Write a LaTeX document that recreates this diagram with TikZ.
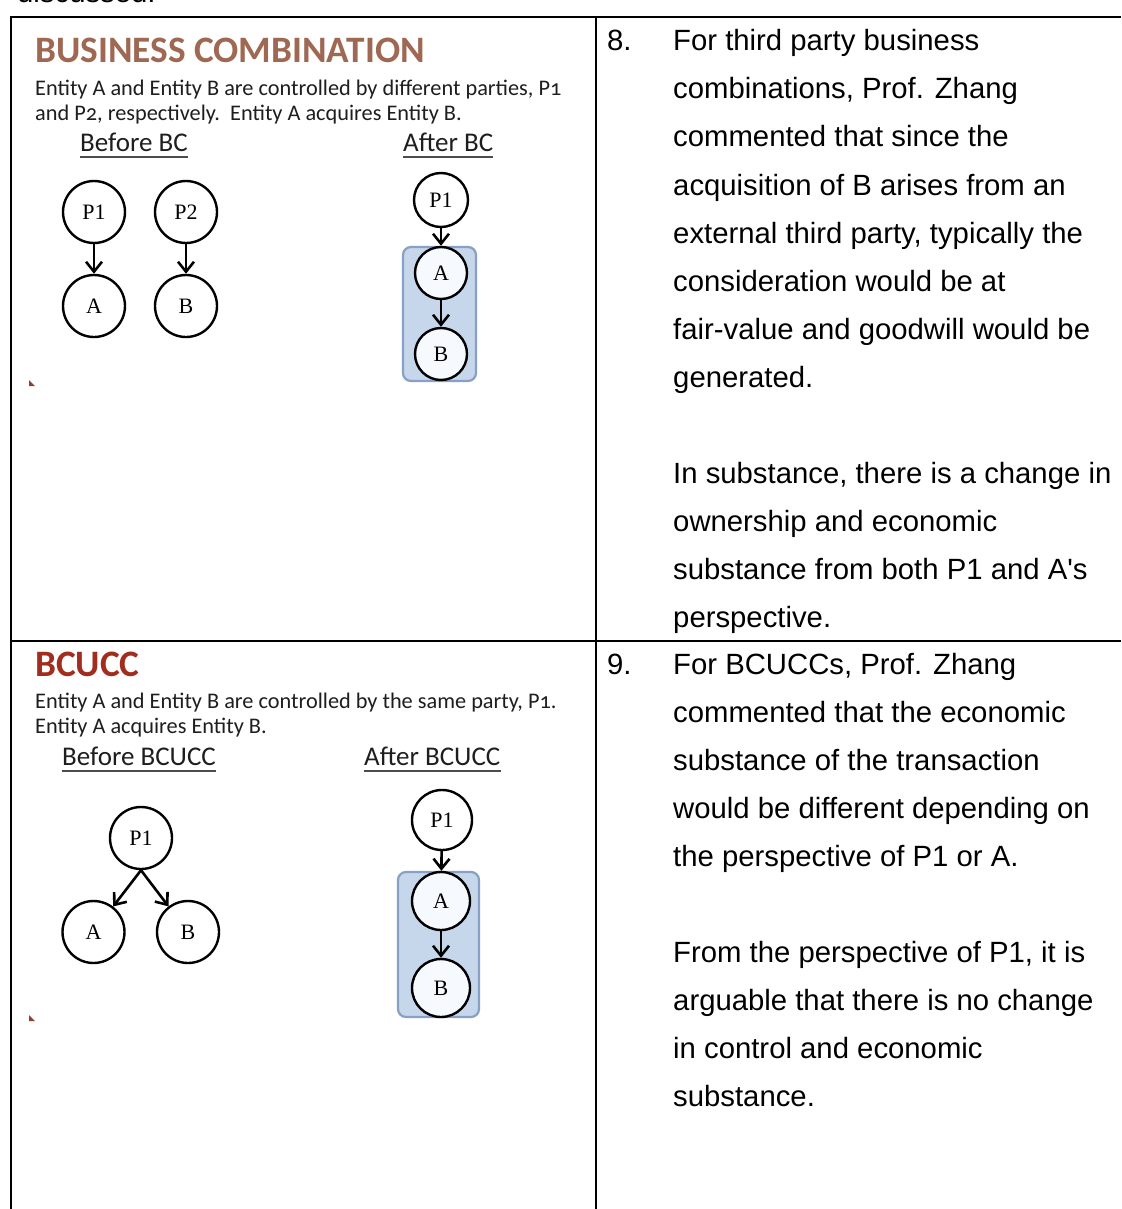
\documentclass[tikz,border=0pt]{standalone}
\usepackage{fontspec}
\setmainfont{Liberation Sans}[Ligatures=TeXOff]
\newfontfamily\calfont{Carlito}[Numbers=OldStyle]
\newfontfamily\tmsfont{Liberation Serif}
\usetikzlibrary{arrows.meta}
\definecolor{bctitle}{RGB}{158,104,82}
\definecolor{bcucctitle}{RGB}{160,45,30}
\definecolor{grpfill}{RGB}{198,214,235}
\definecolor{grpdraw}{RGB}{135,160,198}
\definecolor{innerfill}{RGB}{246,249,253}
\definecolor{bodytxt}{RGB}{30,30,30}
\definecolor{markred}{RGB}{150,60,50}
\tikzset{
 tbl/.style={line width=2pt},
 rtext/.style={anchor=base west, inner sep=0pt, font=\fontsize{29.3}{34}\selectfont},
 ltext/.style={anchor=base west, inner sep=0pt, font=\calfont\fontsize{22.3}{25}\selectfont, text=bodytxt},
 ttl/.style={anchor=base west, inner sep=0pt, font=\calfont\bfseries\fontsize{37.3}{40}\selectfont},
 subhd/.style={anchor=base west, inner sep=0pt, font=\calfont\fontsize{27}{30}\selectfont, text=bodytxt},
 ent/.style={circle, draw, line width=2.4pt, fill=white, font=\tmsfont\fontsize{22}{24}\selectfont, inner sep=0pt},
 inent/.style={ent, fill=innerfill},
 grp/.style={draw=grpdraw, fill=grpfill, line width=2.2pt, rounded corners=8pt, inner sep=0pt},
 arr/.style={draw=black, line width=2.6pt, -{Straight Barb[length=10pt,width=16pt]}},
 ul/.style={line width=1.5pt, draw=black!70}
}
\begin{document}
\begin{tikzpicture}[x=1pt,y=-1pt]
\useasboundingbox (0,0) rectangle (1121,1209);
\fill[white] (0,0) rectangle (1121,1209);
% cut-off text at the top
\node[rtext] (disc) at (17,3) {discussed.};
% table
\draw[tbl] (11,1209) -- (11,17) -- (1121,17);
\draw[tbl] (596,17) -- (596,1209);
\draw[tbl] (11,641) -- (1121,641);

% ===== top-left: business combination =====
\node[ttl, text=bctitle] (t1) at (35,63) {BUSINESS COMBINATION};
\node[ltext] (l1) at (35,96) {Entity A and Entity B are controlled by different parties, P1};
\node[ltext] (l2) at (35,121) {and P2, respectively.\ \ Entity A acquires Entity B.};
\node[subhd] (bbc) at (80,152) {Before BC};
\draw[ul] ([yshift=-5pt]bbc.base west) -- ([yshift=-5pt]bbc.base east);
\node[subhd] (abc) at (403,152) {After BC};
\draw[ul] ([yshift=-5pt]abc.base west) -- ([yshift=-5pt]abc.base east);

\node[ent, minimum size=62pt] (bp1) at (94,212) {P1};
\node[ent, minimum size=62pt] (ba) at (94,306) {A};
\node[ent, minimum size=62pt] (bp2) at (186,212) {P2};
\node[ent, minimum size=62pt] (bb) at (186,306) {B};
\draw[arr] (bp1) -- (ba);
\draw[arr] (bp2) -- (bb);

\node[grp, minimum width=73pt, minimum height=134pt] (g1) at (439.5,314) {};
\node[ent, minimum size=54pt] (ap1) at (441,200) {P1};
\node[inent, minimum size=52pt] (aa) at (441,273) {A};
\node[inent, minimum size=52pt] (ab) at (441,354) {B};
\draw[arr] (ap1) -- (aa);
\draw[arr] (aa) -- (ab);
\fill[markred] (29,380) -- (29,386) -- (35,386) -- cycle;

% ===== bottom-left: BCUCC =====
\node[ttl, text=bcucctitle] (t2) at (35,676) {BCUCC};
\node[ltext] (l3) at (35,708) {Entity A and Entity B are controlled by the same party, P1.};
\node[ltext] (l4) at (35,733) {Entity A acquires Entity B.};
\node[subhd] (bbu) at (62,765) {Before BCUCC};
\draw[ul] ([yshift=-6pt]bbu.base west) -- ([yshift=-6pt]bbu.base east);
\node[subhd] (abu) at (364,765) {After BCUCC};
\draw[ul] ([yshift=-6pt]abu.base west) -- ([yshift=-6pt]abu.base east);

\node[ent, minimum size=62pt] (cp1) at (141,838) {P1};
\node[ent, minimum size=62pt] (ca) at (93.5,932) {A};
\node[ent, minimum size=62pt] (cb) at (188,932) {B};
\draw[arr] (cp1.south) -- (ca);
\draw[arr] (cp1.south) -- (cb);

\node[grp, minimum width=81pt, minimum height=145pt] (g2) at (438.5,944.5) {};
\node[ent, minimum size=60pt] (dp1) at (442,820) {P1};
\node[inent, minimum size=58pt] (da) at (441,901) {A};
\node[inent, minimum size=58pt] (db) at (441,988) {B};
\draw[arr] (dp1) -- (da);
\draw[arr] (da) -- (db);
\fill[markred] (29,1015) -- (29,1021) -- (35,1021) -- cycle;

% ===== right column =====
\node[rtext] (n8) at (607,51) {8.};
\node[rtext] (r1) at (673,51) {For third party business};
\node[rtext] (r2) at (673,99) {combinations, Prof. Zhang};
\node[rtext] (r3) at (673,147) {commented that since the};
\node[rtext] (r4) at (673,195) {acquisition of B arises from an};
\node[rtext] (r5) at (673,243) {external third party, typically the};
\node[rtext] (r6) at (673,291) {consideration would be at};
\node[rtext] (r7) at (673,339) {fair-value and goodwill would be};
\node[rtext] (r8) at (673,387) {generated.};
\node[rtext] (r9) at (673,483) {In substance, there is a change in};
\node[rtext] (r10) at (673,531) {ownership and economic};
\node[rtext] (r11) at (673,579) {substance from both P1 and A's};
\node[rtext] (r12) at (673,627) {perspective.};

\node[rtext] (n9) at (607,674) {9.};
\node[rtext] (s1) at (673,674) {For BCUCCs, Prof. Zhang};
\node[rtext] (s2) at (673,722) {commented that the economic};
\node[rtext] (s3) at (673,770) {substance of the transaction};
\node[rtext] (s4) at (673,818) {would be different depending on};
\node[rtext] (s5) at (673,866) {the perspective of P1 or A.};
\node[rtext] (s6) at (673,962) {From the perspective of P1, it is};
\node[rtext] (s7) at (673,1010) {arguable that there is no change};
\node[rtext] (s8) at (673,1058) {in control and economic};
\node[rtext] (s9) at (673,1106) {substance.};
\end{tikzpicture}
\end{document}
